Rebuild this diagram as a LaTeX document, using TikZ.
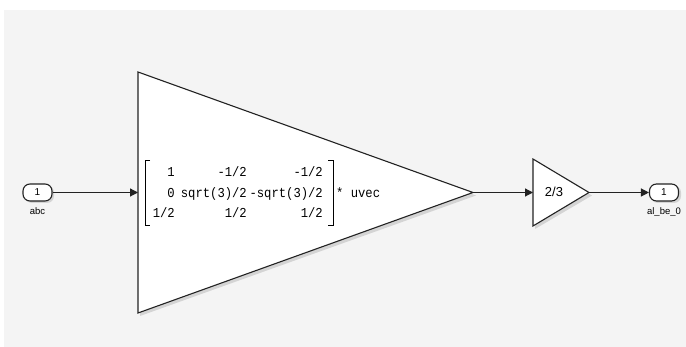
\documentclass[tikz,border=0pt]{standalone}
\usepackage{fontspec}
\setmainfont{Liberation Sans}
\newfontfamily\monofnt{Liberation Mono}
\usetikzlibrary{arrows.meta}
\definecolor{bgc}{HTML}{F4F4F4}
\definecolor{linec}{HTML}{222222}
\newcommand{\mtxt}[1]{\scalebox{1}[1.12]{#1}}
\tikzset{
  port/.style={draw=linec, line width=1.1pt, rounded corners=7pt, fill=white, minimum width=29pt, minimum height=17pt, inner sep=0pt, font=\fontsize{10}{10}\selectfont},
  plabel/.style={font=\fontsize{9.5}{9.5}\selectfont, text=black},
  blk/.style={draw=linec, line width=1.1pt, fill=white, line join=miter},
  shad/.style={fill=black, opacity=0.13},
  wire/.style={draw=linec, line width=1.2pt, -{Triangle[length=8pt,width=8pt]}},
  mtx/.style={font=\monofnt\fontsize{12.2}{12.2}\selectfont, anchor=base east, inner sep=0pt},
  brk/.style={draw=black, line width=0.9pt}
}
\begin{document}
\begin{tikzpicture}[x=1pt,y=-1pt]
\useasboundingbox (0,0) rectangle (686,347);
\fill[white] (0,0) rectangle (686,347);
\fill[bgc] (4,10) rectangle (686,347);
% big gain triangle
\coordinate (gT) at (138,72);
\coordinate (gB) at (138,313);
\coordinate (gA) at (473,192.5);
\coordinate (gIn) at (138,192.5);
\fill[shad] (140,75) -- (476,195.5) -- (140,316) -- cycle;
\draw[blk] (gT) -- (gA) -- (gB) -- cycle;
% small gain triangle
\coordinate (sT) at (533,159);
\coordinate (sB) at (533,226);
\coordinate (sA) at (589,192.5);
\coordinate (sIn) at (533,192.5);
\fill[shad] (535,162) -- (592,195.5) -- (535,229) -- cycle;
\draw[blk] (sT) -- (sA) -- (sB) -- cycle;
\node[font=\fontsize{13}{13}\selectfont, inner sep=0pt] (k) at (554,192) {2/3};
% ports
\fill[shad, rounded corners=7pt] (25,185.5) rectangle (54,203);
\node[port] (in) at (37.5,192.5) {1};
\node[plabel, anchor=north] (inl) at (37.5,204) {abc};
\fill[shad, rounded corners=7pt] (651,185.5) rectangle (681,203);
\node[port] (out) at (664,192.5) {1};
\node[plabel, anchor=north] (outl) at (664,204) {al\_be\_0};
% matrix text
\node[mtx] (m11) at (175,177) {\mtxt{1}};
\node[mtx] (m12) at (247,177) {\mtxt{-1/2}};
\node[mtx] (m13) at (323,177) {\mtxt{-1/2}};
\node[mtx] (m21) at (175,197.5) {\mtxt{0}};
\node[mtx] (m22) at (247,197.5) {\mtxt{sqrt(3)/2}};
\node[mtx] (m23) at (323,197.5) {\mtxt{-sqrt(3)/2}};
\node[mtx] (m31) at (175,217.5) {\mtxt{1/2}};
\node[mtx] (m32) at (247,217.5) {\mtxt{1/2}};
\node[mtx] (m33) at (323,217.5) {\mtxt{1/2}};
\draw[brk] (150,160) -- (145,160) -- (145,225) -- (150,225);
\draw[brk] (328,160) -- (333,160) -- (333,225) -- (328,225);
\node[mtx, anchor=base west] (uv) at (336,197.5) {\mtxt{* uvec}};
% wires
\draw[wire] (in.east) -- (gIn);
\draw[wire] (gA) -- (sIn);
\draw[wire] (sA) -- (out.west);
\end{tikzpicture}
\end{document}
